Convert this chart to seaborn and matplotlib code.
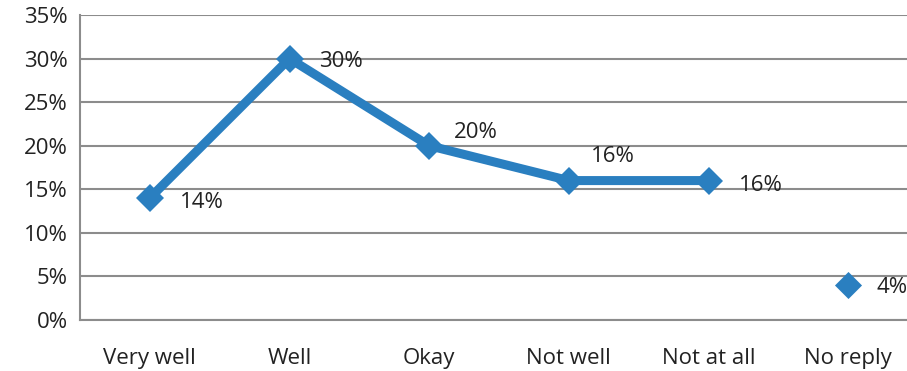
import matplotlib
matplotlib.use("Agg")
import matplotlib.pyplot as plt
import seaborn as sns
import pandas as pd
from matplotlib.ticker import FuncFormatter, MultipleLocator

categories = ["Very well", "Well", "Okay", "Not well", "Not at all", "No reply"]
values = [14, 30, 20, 16, 16, 4]
connected = [True, True, True, True, True, False]
label_offsets = [(30, -5), (30, -3), (25, 13), (22, 24), (30, -5), (28, -2)]

sns.set_style("white")
plt.rcParams["font.family"] = ["Open Sans", "DejaVu Sans"]

color = "#2a7fc0"
fs = 16
fig = plt.figure(figsize=(9.07, 3.71), dpi=100)
ax = fig.add_axes([80 / 907, 51 / 371, 838 / 907, 305 / 371])

df = pd.DataFrame({"x": range(len(categories)), "y": values, "c": connected})
line_df = df[df["c"]]
other_df = df[~df["c"]]

sns.lineplot(data=line_df, x="x", y="y", ax=ax, color=color, linewidth=6.5,
             marker="D", markersize=14, markeredgewidth=0, zorder=3)
sns.scatterplot(data=other_df, x="x", y="y", ax=ax, color=color, marker="D",
                s=190, linewidth=0, zorder=3)

for i, v in enumerate(values):
    dx, dy = label_offsets[i]
    ax.annotate(f"{v}%", (i, v), xytext=(dx, dy), textcoords="offset pixels",
                ha="left", va="center", fontsize=fs, color="#222222")

ax.set_xlim(-0.5, len(categories) - 0.5)
ax.set_ylim(0, 35)
ax.yaxis.set_major_locator(MultipleLocator(5))
ax.yaxis.set_major_formatter(FuncFormatter(lambda v, p: f"{int(v)}%"))
ax.set_xticks(range(len(categories)))
ax.set_xticklabels(categories)
ax.set_xticks([i - 0.5 for i in range(len(categories) + 1)], minor=True)
ax.tick_params(axis="x", which="major", length=0, pad=20, labelsize=fs, labelcolor="#222222")
ax.tick_params(axis="x", which="minor", length=7, width=1.5, color="#8c8c8c", direction="out")
ax.tick_params(axis="y", length=6, width=1.5, color="#8c8c8c", labelsize=fs,
               labelcolor="#222222", pad=3)
ax.grid(axis="y", color="#8c8c8c", linewidth=1.5)
ax.set_axisbelow(True)
for s in ["top", "right"]:
    ax.spines[s].set_visible(False)
ax.spines["left"].set_color("#8c8c8c")
ax.spines["left"].set_linewidth(1.5)
ax.spines["bottom"].set_color("#8c8c8c")
ax.spines["bottom"].set_linewidth(1.5)
ax.set_xlabel("")
ax.set_ylabel("")

fig.savefig("out.png", dpi=100)
